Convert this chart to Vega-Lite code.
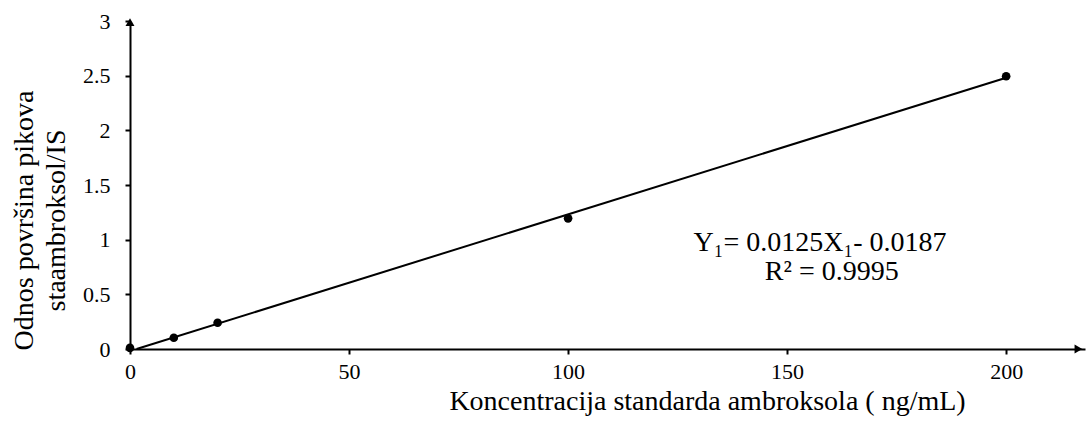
{
  "$schema": "https://vega.github.io/schema/vega-lite/v6.json",
  "autosize": {"type": "none"},
  "width": 955,
  "height": 328,
  "padding": {"left": 130, "top": 21, "right": 3, "bottom": 76},
  "background": "white",
  "config": {
    "view": {"stroke": null},
    "font": "Liberation Serif"
  },
  "datasets": {
    "pts": [
      {"conc": 0, "ratio": 0.01},
      {"conc": 10, "ratio": 0.103},
      {"conc": 20, "ratio": 0.24},
      {"conc": 100, "ratio": 1.195},
      {"conc": 200, "ratio": 2.495}
    ],
    "fit": [
      {"conc": 1.5, "ratio": 0.0},
      {"conc": 200, "ratio": 2.4813}
    ],
    "eq": [
      {"conc": 157.5, "ratio": 0.97, "label": "Y₁= 0.0125X₁- 0.0187"},
      {"conc": 160.2, "ratio": 0.7, "label": "R² = 0.9995"}
    ],
    "arrows": [
      {"conc": 0, "ratio": 2.99, "shape": "triangle-up"},
      {"conc": 216.5, "ratio": 0, "shape": "triangle-right"}
    ]
  },
  "layer": [
    {
      "data": {"name": "fit"},
      "mark": {"type": "line", "color": "black", "strokeWidth": 2, "clip": false},
      "encoding": {
        "x": {"field": "conc", "type": "quantitative", "scale": {"domain": [0, 218], "nice": false},
          "axis": {"values": [0, 50, 100, 150, 200], "format": "~r", "grid": false, "domainColor": "black", "domainWidth": 2, "tickColor": "black", "tickWidth": 2, "tickSize": 5, "labelFont": "Liberation Serif", "labelFontSize": 22, "labelColor": "black", "labelPadding": 7, "labelFlush": false,
            "title": "Koncentracija standarda ambroksola ( ng/mL)", "titleFont": "Liberation Serif", "titleFontSize": 28, "titleFontWeight": "normal", "titleColor": "black", "titleX": 577, "titleY": 60, "titleBaseline": "alphabetic"}},
        "y": {"field": "ratio", "type": "quantitative", "scale": {"domain": [0, 3], "nice": false},
          "axis": {"values": [0, 0.5, 1, 1.5, 2, 2.5, 3], "format": "~r", "grid": false, "domainColor": "black", "domainWidth": 2, "tickColor": "black", "tickWidth": 2, "tickSize": 5, "labelFont": "Liberation Serif", "labelFontSize": 22, "labelColor": "black", "labelPadding": 15, "labelFlush": false,
            "title": ["Odnos površina pikova", "staambroksol/IS"], "titleFont": "Liberation Serif", "titleFontSize": 28, "titleFontWeight": "normal", "titleColor": "black", "titleLineHeight": 32, "titlePadding": 12, "titleY": 199}}
      }
    },
    {
      "data": {"name": "pts"},
      "mark": {"type": "point", "filled": true, "color": "black", "size": 75, "opacity": 1, "clip": false},
      "encoding": {
        "x": {"field": "conc", "type": "quantitative"},
        "y": {"field": "ratio", "type": "quantitative"}
      }
    },
    {
      "data": {"name": "arrows"},
      "mark": {"type": "point", "filled": true, "color": "black", "size": 80, "opacity": 1, "clip": false},
      "encoding": {
        "x": {"field": "conc", "type": "quantitative"},
        "y": {"field": "ratio", "type": "quantitative"},
        "shape": {"field": "shape", "type": "nominal", "scale": null, "legend": null}
      }
    },
    {
      "data": {"name": "eq"},
      "mark": {"type": "text", "font": "Liberation Serif", "fontSize": 28, "color": "black", "align": "center", "baseline": "middle"},
      "encoding": {
        "x": {"field": "conc", "type": "quantitative"},
        "y": {"field": "ratio", "type": "quantitative"},
        "text": {"field": "label"}
      }
    }
  ]
}
